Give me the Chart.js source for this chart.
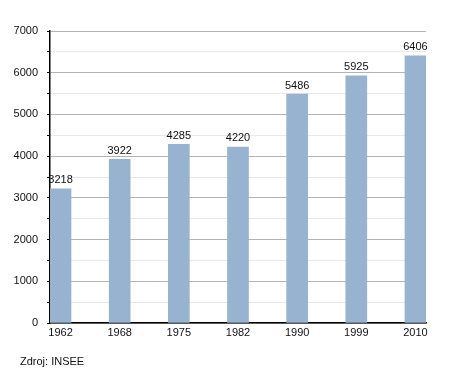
<!DOCTYPE html>
<html>
<head>
<meta charset="utf-8">
<script src="https://cdn.jsdelivr.net/npm/chart.js@4/dist/chart.umd.min.js"></script>
<style>
  html, body { margin: 0; padding: 0; background: #fff; }
  #wrap { position: relative; width: 455px; height: 373px; }
  #source { position: absolute; left: 20px; top: 355px; font: 11px "Liberation Sans", Arial, sans-serif; color: #111; }
</style>
</head>
<body>
<div id="wrap">
  <canvas id="chart" width="455" height="373"></canvas>
  <div id="source">Zdroj: INSEE</div>
</div>
<script>
// ===== DATA =====
const years = ['1962', '1968', '1975', '1982', '1990', '1999', '2010'];
const population = [3218, 3922, 4285, 4220, 5486, 5925, 6406];
const yTicks = [0, 1000, 2000, 3000, 4000, 5000, 6000, 7000];

const FONT = '"Liberation Sans", Arial, sans-serif';

// value labels above the bars
const valueLabels = {
    id: 'valueLabels',
    afterDatasetsDraw(chart) {
        const ctx = chart.ctx;
        const meta = chart.getDatasetMeta(0);
        ctx.save();
        ctx.font = '11px ' + FONT;
        ctx.fillStyle = '#111';
        ctx.textAlign = 'center';
        ctx.textBaseline = 'bottom';
        meta.data.forEach((bar, i) => {
            ctx.fillText(population[i], bar.x, bar.y - 3);
        });
        ctx.restore();
    }
};

const ctx = document.getElementById('chart').getContext('2d');
new Chart(ctx, {
    type: 'bar',
    data: {
        datasets: [{
            data: population.map((v, i) => ({ x: i, y: v })),
            backgroundColor: '#97b3cf',
            borderWidth: 0,
            barThickness: 21
        }]
    },
    options: {
        responsive: false,
        animation: false,
        layout: { padding: { left: 0, right: 29, top: 31, bottom: 30 } },
        scales: {
            x: {
                type: 'linear',
                offset: false,
                min: -0.178,
                max: 6.178,
                afterBuildTicks: (scale) => {
                    scale.ticks = years.map((y, i) => ({ value: i }));
                },
                afterFit: (scale) => { scale.height = 20; },
                grid: { display: false, drawTicks: false },
                border: { display: true, color: '#000', width: 1.5 },
                ticks: {
                    padding: 3,
                    color: '#111',
                    font: { family: FONT, size: 11 },
                    callback: (v) => years[v]
                }
            },
            y: {
                min: 0,
                max: 7000,
                afterBuildTicks: (scale) => {
                    const t = [];
                    for (let v = 0; v <= 7000; v += 500) t.push({ value: v });
                    scale.ticks = t;
                },
                afterFit: (scale) => { scale.width = 50; },
                grid: {
                    color: (c) => (c.tick && c.tick.value % 1000 === 0) ? '#b4b4b4' : '#e8e8e8',
                    tickColor: '#000',
                    tickLength: 3
                },
                border: { display: true, color: '#000', width: 1.5 },
                ticks: {
                    padding: 9,
                    color: '#111',
                    font: { family: FONT, size: 11 },
                    callback: (v) => yTicks.includes(v) ? String(v) : ''
                }
            }
        },
        plugins: {
            legend: { display: false },
            tooltip: { enabled: false }
        }
    },
    plugins: [valueLabels]
});
</script>
</body>
</html>
